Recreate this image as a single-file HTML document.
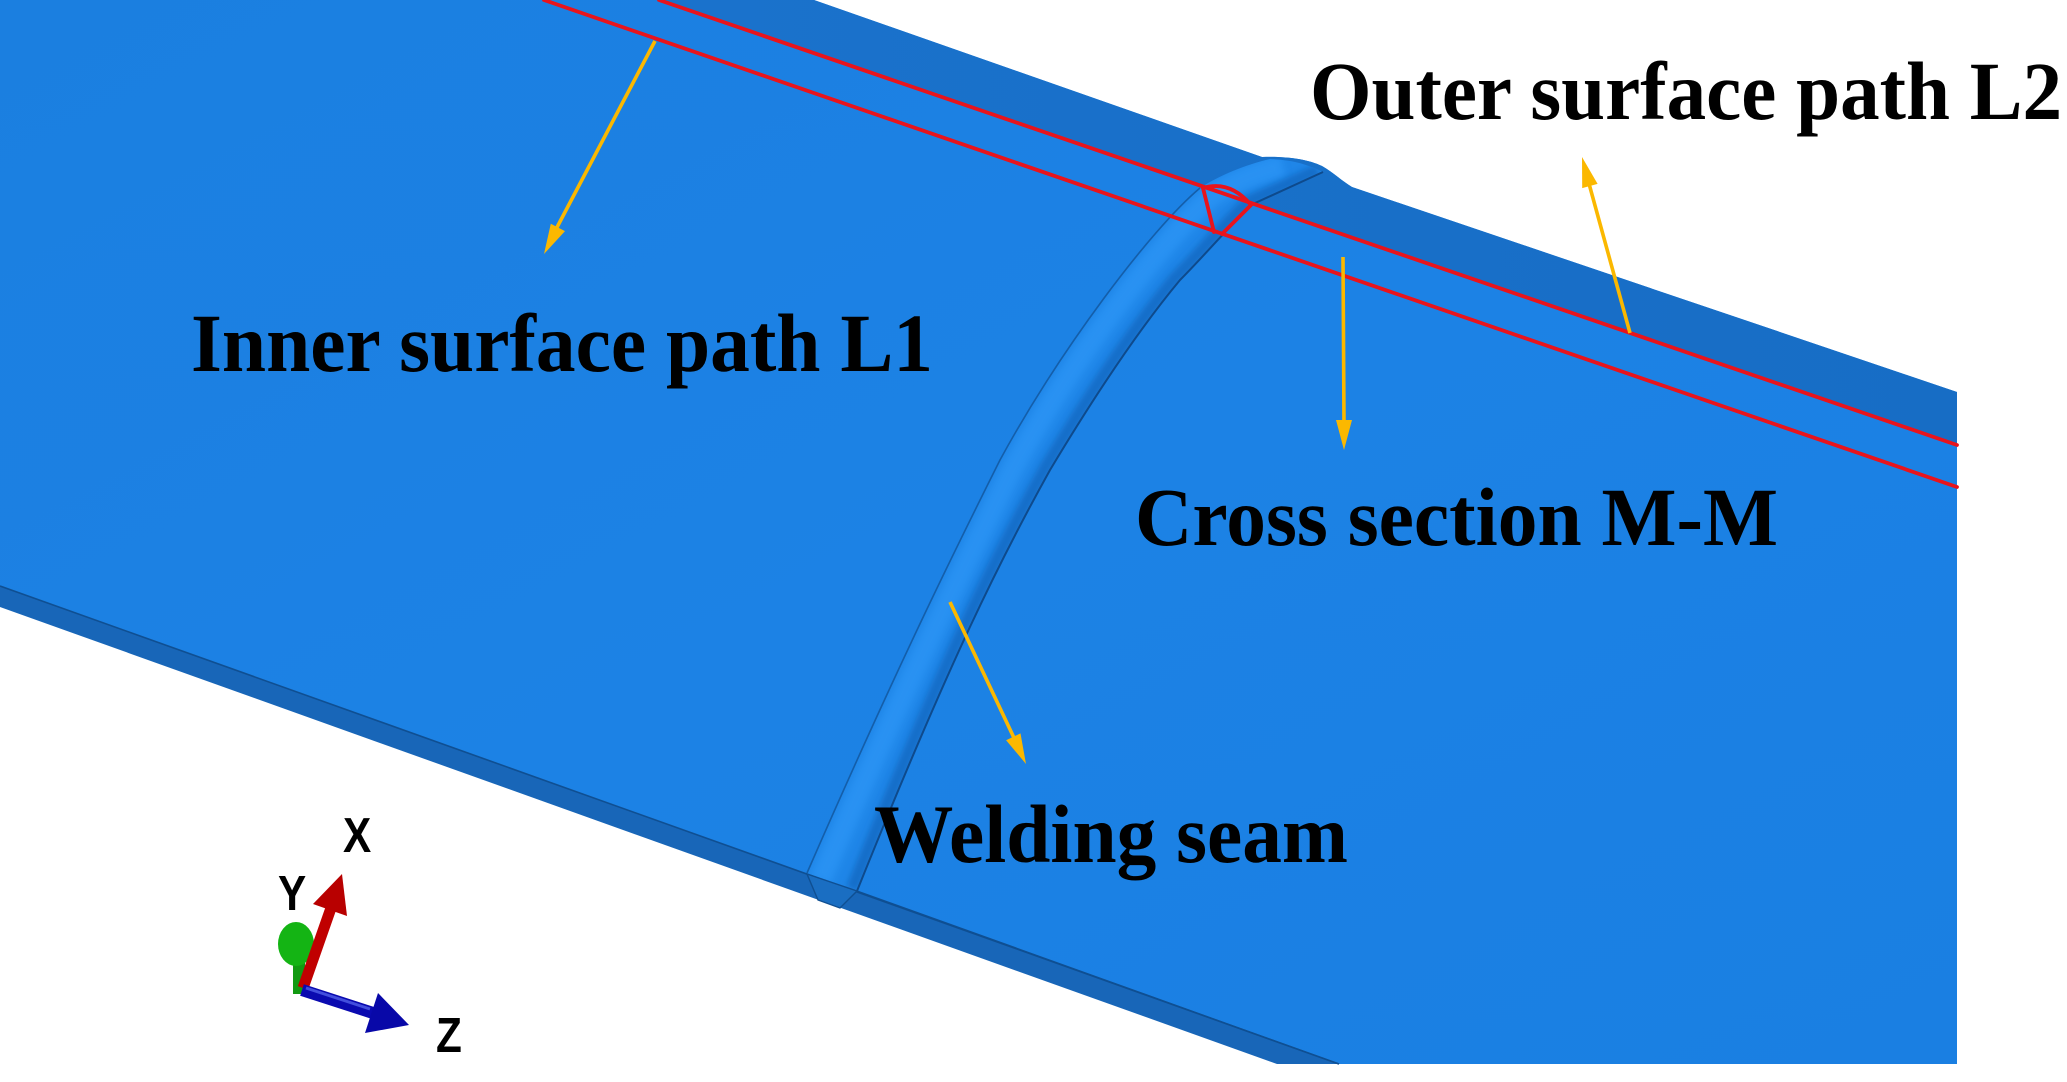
<!DOCTYPE html>
<html>
<head>
<meta charset="utf-8">
<style>
  html, body { margin: 0; padding: 0; background: #ffffff; }
  body { width: 2067px; height: 1082px; overflow: hidden; }
  svg { display: block; }
</style>
</head>
<body>
<svg width="2067" height="1082" viewBox="0 0 2067 1082" xmlns="http://www.w3.org/2000/svg">
  <defs>
    <linearGradient id="face" x1="0" y1="0" x2="1" y2="1">
      <stop offset="0" stop-color="#1b7fe0"/>
      <stop offset="0.5" stop-color="#1c82e5"/>
      <stop offset="1" stop-color="#1a7fe2"/>
    </linearGradient>
    <linearGradient id="band" x1="0" y1="0" x2="1" y2="0">
      <stop offset="0" stop-color="#1a72cc"/>
      <stop offset="1" stop-color="#176dc5"/>
    </linearGradient>
    <filter id="blur4" x="-20%" y="-20%" width="140%" height="140%">
      <feGaussianBlur stdDeviation="4"/>
    </filter>
    <filter id="blur3" x="-20%" y="-20%" width="140%" height="140%">
      <feGaussianBlur stdDeviation="3"/>
    </filter>
    <clipPath id="beadclip">
      <path d="M1270,159 C1245,165 1220,175 1200,188 C1150,230 1060,350 1000,460 C960,540 900,660 807,873 L857,891 C950,660 1000,560 1050,470 C1080,420 1130,340 1180,280 C1205,255 1230,225 1253,204 L1323,172 C1305,163 1290,160 1270,159 Z"/>
    </clipPath>
  </defs>

  <!-- main plate top face -->
  <path d="M0,0 L814,0 L1262,157 C1285,156 1308,159 1322,166 C1334,173 1342,181 1352,187 L1957,392 L1957,1064 L1339,1064 L0,586 Z" fill="url(#face)"/>

  <!-- far side band (between top edge and upper red line) -->
  <path d="M659,0 L814,0 L1262,157 C1285,156 1308,159 1322,166 C1334,173 1342,181 1352,187 L1957,392 L1957,445 Z" fill="url(#band)"/>

  <!-- near side strip (bottom thickness) -->
  <path d="M0,586 L1339,1064 L1277,1064 L0,607 Z" fill="#1866b8"/>
  <line x1="0" y1="586" x2="1339" y2="1064" stroke="#0f4f92" stroke-width="1.6"/>

  <!-- weld bead -->
  <g clip-path="url(#beadclip)">
    <rect x="780" y="140" width="600" height="780" fill="#1f86e8"/>
    <!-- highlight along the left part -->
    <path d="M1283,164 C1258,170 1233,180 1213,193 C1163,236 1073,356 1013,466 C973,546 913,666 820,879" transform="translate(0,2)" fill="none" stroke="#35a0ff" stroke-width="22" opacity="0.45" filter="url(#blur4)"/>
    <!-- shadow near right toe -->
    <path d="M1318,170 L1248,202 C1225,223 1200,253 1175,278 C1125,338 1075,418 1045,468 C995,558 945,658 852,889" fill="none" stroke="#0f5cb0" stroke-width="12" opacity="0.55" filter="url(#blur3)"/>
  </g>
  <!-- bead toe lines -->
  <path d="M1200,188 C1150,230 1060,350 1000,460 C960,540 900,660 807,873" fill="none" stroke="#145ea9" stroke-width="1.6"/>
  <path d="M1323,172 L1253,204 C1230,225 1205,255 1180,280 C1130,340 1080,420 1050,470 C1000,560 950,660 857,891" fill="none" stroke="#0e4a8c" stroke-width="2"/>
  <!-- bead end face on the near strip -->
  <path d="M807,874 L857,891 L840,908 L818,900 Z" fill="#1a6ec2" stroke="#0f4f92" stroke-width="1.4"/>
  <line x1="857" y1="891" x2="1339" y2="1064" stroke="#0f4f92" stroke-width="1.4"/>

  <!-- red paths -->
  <g stroke="#e8141c" stroke-width="3.8" fill="none" stroke-linecap="round" stroke-linejoin="round">
    <line x1="659" y1="0" x2="1957" y2="445"/>
    <line x1="544" y1="0" x2="1957" y2="487"/>
    <path d="M1203,188 Q1230,180 1251,205 L1222,234"/>
    <path d="M1203,188 L1214,232"/>
  </g>

  <!-- orange arrows -->
  <g stroke="#fbb800" stroke-width="3.6" fill="none">
    <line x1="655" y1="41" x2="554" y2="233"/>
    <line x1="1343" y1="257" x2="1344" y2="424"/>
    <line x1="1630" y1="333" x2="1588" y2="180"/>
    <line x1="950" y1="602" x2="1015" y2="740"/>
  </g>
  <g fill="#fbb800">
    <polygon points="544,254 565,231.1 550.8,223.7"/>
    <polygon points="1344,450 1336,420 1352,420"/>
    <polygon points="1582,157 1597.6,183.9 1582.2,188.1"/>
    <polygon points="1026,764 1020.5,733.4 1006.1,740.2"/>
  </g>

  <!-- labels -->
  <g font-family="'Liberation Serif', 'Times New Roman', serif" font-weight="bold" font-size="83" fill="#000">
    <text x="191" y="371" textLength="742" lengthAdjust="spacingAndGlyphs">Inner surface path L1</text>
    <text x="1310" y="119" textLength="752" lengthAdjust="spacingAndGlyphs">Outer surface path L2</text>
    <text x="1135" y="545" textLength="643" lengthAdjust="spacingAndGlyphs">Cross section M-M</text>
    <text x="874" y="862" textLength="474" lengthAdjust="spacingAndGlyphs">Welding seam</text>
  </g>

  <!-- axis triad -->
  <g>
    <!-- green Y -->
    <rect x="293" y="955" width="12" height="39" fill="#129a12"/>
    <ellipse cx="296" cy="944" rx="18" ry="22" fill="#14b414"/>
    <!-- red X -->
    <line x1="303" y1="988" x2="331" y2="908" stroke="#c00000" stroke-width="11"/>
    <polygon points="342,874 347,916 313,904" fill="#b80000"/>
    <!-- blue Z -->
    <line x1="302" y1="990" x2="373" y2="1013" stroke="#0a0ab0" stroke-width="12"/>
    <line x1="306" y1="988" x2="370" y2="1009" stroke="#5a6cf0" stroke-width="3" opacity="0.7"/>
    <polygon points="409,1025 365,1033 378,993" fill="#0808a8"/>
  </g>
  <g font-family="'Liberation Sans', Arial, sans-serif" font-weight="bold" font-size="47" fill="#000">
    <text x="343" y="852" transform="translate(343,852) scale(0.9,1.05) translate(-343,-852)">X</text>
    <text x="278" y="910" transform="translate(278,910) scale(0.9,1.05) translate(-278,-910)">Y</text>
    <text x="436" y="1052" transform="translate(436,1052) scale(0.9,1.05) translate(-436,-1052)">Z</text>
  </g>
</svg>
</body>
</html>
